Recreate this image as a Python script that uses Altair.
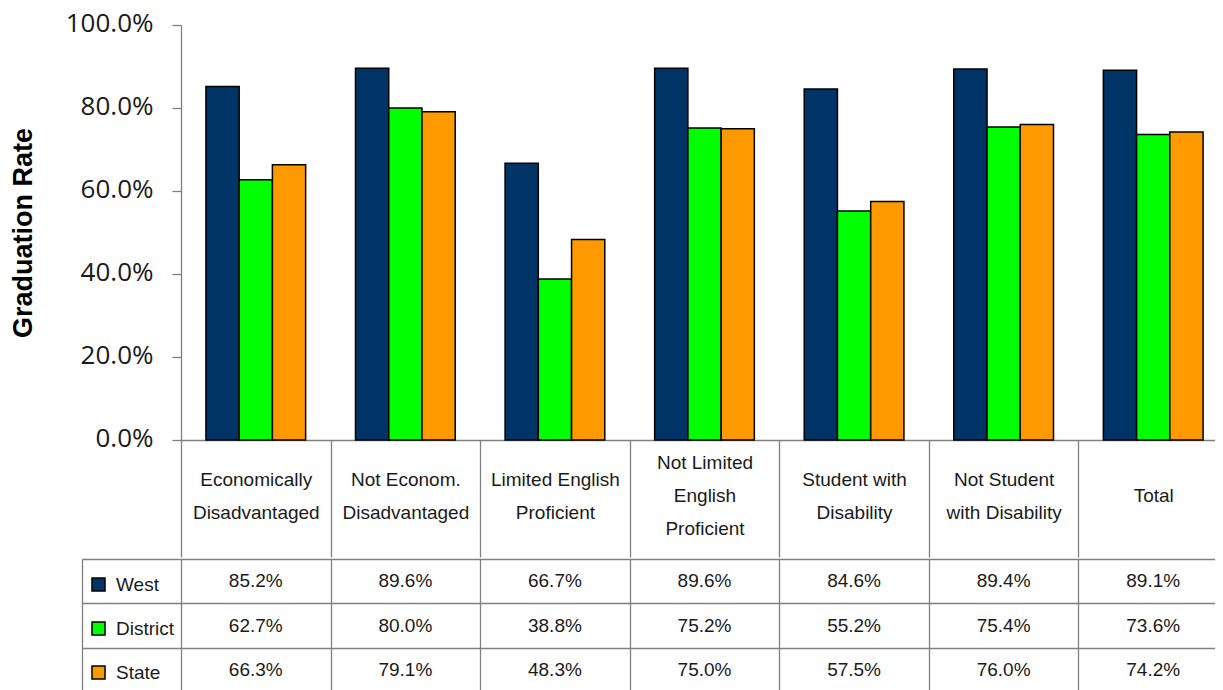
import altair as alt
import pandas as pd

categories = [
    "Economically|Disadvantaged",
    "Not Econom.|Disadvantaged",
    "Limited English|Proficient",
    "Not Limited|English|Proficient",
    "Student with|Disability",
    "Not Student|with Disability",
    "Total",
]
series = ["West", "District", "State"]
west = [0.852, 0.896, 0.667, 0.896, 0.846, 0.894, 0.891]
district = [0.627, 0.800, 0.388, 0.752, 0.552, 0.754, 0.736]
state = [0.663, 0.791, 0.483, 0.750, 0.575, 0.760, 0.742]
colors = ["#003366", "#00ff00", "#ff9900"]
y_ticks = [0.0, 0.2, 0.4, 0.6, 0.8, 1.0]

records = []
for s, vals in zip(series, [west, district, state]):
    for c, v in zip(categories, vals):
        records.append({"category": c, "series": s, "value": v})
df = pd.DataFrame(records)

W = 1047
LINE = "#808080"
TXT = "#1a1a1a"
NLINES = "length(split(datum.label, '|'))"

bars = alt.Chart(df).mark_bar(stroke="black", strokeWidth=1.5).encode(
    x=alt.X(
        "category:N", sort=categories,
        scale=alt.Scale(paddingInner=0, paddingOuter=0),
        axis=alt.Axis(
            title=None, orient="bottom", labelExpr="split(datum.label, '|')",
            labelAngle=0, labelFont="Liberation Sans", labelFontSize=19,
            labelColor=TXT, labelLineHeight=33, labelBaseline="middle",
            labelPadding={
                "condition": [
                    {"test": NLINES + " == 3", "value": -95},
                    {"test": NLINES + " == 1", "value": -62},
                ],
                "value": -78,
            },
            tickBand="extent", tickSize=117, tickColor=LINE,
            tickWidth=1.3, domainColor=LINE, domainWidth=1.3, grid=False,
        ),
    ),
    xOffset=alt.XOffset(
        "series:N", sort=series,
        scale=alt.Scale(paddingInner=0, paddingOuter=0.75),
    ),
    y=alt.Y(
        "value:Q",
        scale=alt.Scale(domain=[0, 1], nice=False),
        axis=alt.Axis(
            values=y_ticks, format=".1%", title="Graduation Rate",
            titleFont="Liberation Sans", titleFontSize=27, titleFontWeight="bold",
            titleColor="black", titlePadding=28,
            labelFont="Open Sans", labelFontSize=26, labelColor=TXT,
            labelPadding=19, labelOffset=-2, tickSize=9, tickColor=LINE,
            tickWidth=1.3, domainColor=LINE, domainWidth=1.3, grid=False,
        ),
    ),
    color=alt.Color(
        "series:N", sort=series,
        scale=alt.Scale(domain=series, range=colors), legend=None,
    ),
).properties(width=W, height=415)

base = alt.Chart(df).encode(
    x=alt.X(
        "category:N", sort=categories,
        scale=alt.Scale(paddingInner=0, paddingOuter=0),
        axis=alt.Axis(
            title=None, labels=False, ticks=False, domain=False, grid=True,
            tickBand="extent", gridColor=LINE, gridWidth=1.3, gridOpacity=1,
        ),
    )
).properties(width=W, height=133)

cells = base.mark_text(font="Liberation Sans", fontSize=19, color=TXT).encode(
    y=alt.Y(
        "series:N", sort=series,
        scale=alt.Scale(paddingInner=0, paddingOuter=0),
        axis=alt.Axis(
            title=None, orient="left", labels=False, ticks=True, tickSize=99,
            tickBand="extent", tickColor=LINE, tickWidth=1.3, domain=False,
            grid=True, gridColor=LINE, gridWidth=1.3, gridOpacity=1,
        ),
    ),
    text=alt.Text("value:Q", format=".1%"),
)

swatches = base.mark_square(size=0).encode(
    y=alt.Y(
        "series:N", sort=series,
        scale=alt.Scale(paddingInner=0, paddingOuter=0),
        axis=alt.Axis(
            title=None, orient="left", offset=99, labels=False, ticks=False,
            grid=False, domain=True, domainColor=LINE, domainWidth=1.3,
        ),
    ),
    color=alt.Color(
        "series:N", sort=series,
        scale=alt.Scale(domain=series, range=colors),
        legend=alt.Legend(
            title=None, orient="none", legendX=-92, legendY=16,
            symbolType="square", symbolSize=169, symbolStrokeColor="black",
            symbolStrokeWidth=1.5, symbolOpacity=1, labelFont="Liberation Sans",
            labelFontSize=19, labelColor=TXT, labelOffset=8, rowPadding=24,
            padding=0,
        ),
    ),
)

table = alt.layer(cells, swatches).resolve_scale(y="independent")

chart = alt.vconcat(bars, table, spacing=0).resolve_scale(
    color="independent", x="independent", y="independent"
).configure_view(stroke=None).properties(
    padding={"left": 1, "top": 2, "right": -14, "bottom": 0},
    background="white",
)

chart.save("out.html", embed_options={"renderer": "svg", "actions": False})
